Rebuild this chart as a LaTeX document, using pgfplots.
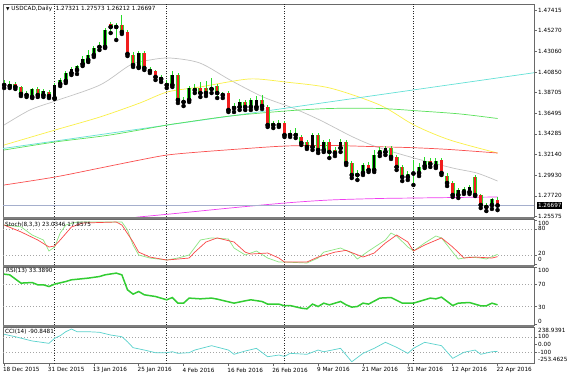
\documentclass[border=0pt]{standalone}
\usepackage{fontspec}
\setmainfont{DejaVu Sans}
\usepackage{pgfplots}
\usepackage{pgfplotstable}
\pgfplotsset{compat=1.18}

\definecolor{frame}{RGB}{105,105,105}
\definecolor{sep}{RGB}{125,125,125}
\definecolor{wick}{RGB}{40,220,40}
\definecolor{bear}{RGB}{240,30,30}
\definecolor{maGray}{RGB}{195,195,195}
\definecolor{maYellow}{RGB}{250,240,70}
\definecolor{maGreen}{RGB}{90,225,90}
\definecolor{maCyan}{RGB}{100,225,215}
\definecolor{maRed}{RGB}{250,80,80}
\definecolor{maMag}{RGB}{240,60,240}
\definecolor{bid}{RGB}{165,175,205}
\definecolor{stG}{RGB}{140,230,130}
\definecolor{stR}{RGB}{250,70,70}
\definecolor{rsiG}{RGB}{50,205,50}
\definecolor{cciC}{RGB}{90,210,205}
\definecolor{gridc}{RGB}{165,165,165}

\newcommand\mt{\fontsize{5.7bp}{6.5bp}\selectfont}

\pgfplotstableread{
i O H L C
0 1.3947 1.4000 1.3915 1.3963
1 1.3936 1.3989 1.3915 1.3958
5 1.3820 1.3915 1.3809 1.3905
7 1.3841 1.3905 1.3820 1.3883
9 1.3809 1.3968 1.3799 1.3947
10 1.3958 1.4021 1.3936 1.4000
11 1.3989 1.4095 1.3968 1.4074
12 1.4074 1.4138 1.4053 1.4117
13 1.4106 1.4159 1.4064 1.4148
14 1.4170 1.4254 1.4148 1.4223
15 1.4212 1.4318 1.4191 1.4265
16 1.4265 1.4360 1.4244 1.4339
17 1.4350 1.4403 1.4318 1.4371
18 1.4350 1.4551 1.4339 1.4530
20 1.4562 1.4604 1.4424 1.4583
24 1.4138 1.4307 1.4127 1.4286
30 1.3947 1.4095 1.3926 1.4053
33 1.3788 1.3936 1.3767 1.3915
34 1.3894 1.3958 1.3862 1.3915
37 1.3905 1.4021 1.3862 1.3926
41 1.3703 1.3756 1.3661 1.3724
42 1.3714 1.3799 1.3682 1.3767
44 1.3714 1.3809 1.3682 1.3788
45 1.3714 1.3830 1.3693 1.3788
49 1.3523 1.3576 1.3502 1.3544
51 1.3417 1.3470 1.3396 1.3438
52 1.3417 1.3491 1.3385 1.3438
55 1.3290 1.3438 1.3258 1.3417
57 1.3258 1.3364 1.3237 1.3343
60 1.3279 1.3375 1.3237 1.3343
63 1.2993 1.3046 1.2940 1.3014
64 1.3014 1.3120 1.2993 1.3099
66 1.3046 1.3258 1.3025 1.3205
67 1.3226 1.3290 1.3194 1.3258
68 1.3237 1.3300 1.3205 1.3279
72 1.2972 1.3035 1.2940 1.3004
73 1.3009 1.3152 1.2887 1.3025
74 1.3014 1.3120 1.2982 1.3078
75 1.3088 1.3184 1.3067 1.3141
77 1.3088 1.3173 1.3067 1.3141
81 1.2781 1.2855 1.2749 1.2834
82 1.2813 1.2866 1.2792 1.2845
83 1.2813 1.2887 1.2792 1.2866
87 1.2675 1.2749 1.2633 1.2739
}\bull

\pgfplotstableread{
i O H L C
2 1.3958 1.3979 1.3905 1.3926
3 1.3926 1.3936 1.3830 1.3852
4 1.3862 1.3883 1.3820 1.3841
6 1.3905 1.3926 1.3820 1.3841
8 1.3873 1.3894 1.3809 1.3830
19 1.4594 1.4615 1.4498 1.4562
21 1.4583 1.4689 1.4488 1.4509
22 1.4509 1.4530 1.4254 1.4276
23 1.4265 1.4297 1.4138 1.4159
25 1.4286 1.4307 1.4106 1.4127
26 1.4117 1.4138 1.4074 1.4095
27 1.4095 1.4106 1.4000 1.4032
28 1.4032 1.4053 1.3979 1.4011
29 1.3968 1.4000 1.3915 1.3947
31 1.4053 1.4074 1.3756 1.3788
32 1.3788 1.3820 1.3724 1.3767
35 1.3915 1.3979 1.3820 1.3862
36 1.3915 1.3989 1.3830 1.3862
38 1.3936 1.3958 1.3809 1.3862
39 1.3852 1.3873 1.3809 1.3841
40 1.3862 1.3883 1.3661 1.3682
43 1.3767 1.3788 1.3682 1.3714
46 1.3788 1.3841 1.3693 1.3724
47 1.3714 1.3735 1.3502 1.3523
48 1.3544 1.3565 1.3491 1.3523
50 1.3544 1.3565 1.3396 1.3417
53 1.3396 1.3417 1.3311 1.3332
54 1.3343 1.3364 1.3269 1.3290
56 1.3417 1.3438 1.3226 1.3258
58 1.3343 1.3375 1.3173 1.3237
59 1.3258 1.3290 1.3194 1.3226
61 1.3343 1.3364 1.3099 1.3120
62 1.3120 1.3141 1.2961 1.2993
65 1.3099 1.3131 1.3025 1.3046
69 1.3279 1.3300 1.3163 1.3184
70 1.3184 1.3205 1.3046 1.3078
71 1.3078 1.3099 1.2929 1.2972
76 1.3141 1.3173 1.3078 1.3110
78 1.3152 1.3173 1.2993 1.3014
79 1.2982 1.3014 1.2876 1.2908
80 1.2908 1.2929 1.2760 1.2781
84 1.2972 1.2993 1.2770 1.2781
85 1.2781 1.2792 1.2643 1.2675
86 1.2675 1.2696 1.2611 1.2654
88 1.27321 1.27573 1.26212 1.26697
}\bear

\pgfplotsset{
  mt/.style={
    scale only axis, width=531bp, xmin=-0.2, xmax=94.5,
    anchor=south west,
    axis line style={draw=frame, line width=0.8bp},
    xtick=\empty,
    ytick pos=right, yticklabels={},
    tick align=outside, major tick length=2.5bp,
    every tick/.append style={draw=frame, line width=0.5bp},
    extra x ticks={9,29,50,73}, extra x tick labels={},
    extra x tick style={grid=major, major tick length=0pt,
      major grid style={draw=black!85, line width=0.5bp, dash pattern=on 1bp off 1.5bp}},
  },
  lvl/.style={grid=major, major grid style={draw=gridc, line width=0.5bp, dash pattern=on 1bp off 2bp}},
  wicks/.style={only marks, mark=none, forget plot, error bars/.cd, y dir=plus, y explicit, error mark=none,
    error bar style={draw=wick, line width=0.8bp, solid}},
  bodyo/.style={only marks, mark=none, forget plot, error bars/.cd, y dir=plus, y explicit, error mark=none,
    error bar style={draw=wick, line width=3.8bp, solid}},
  bodyf/.style={only marks, mark=none, forget plot, error bars/.cd, y dir=plus, y explicit, error mark=none,
    error bar style={draw=#1, line width=2.5bp, solid}},
}

\begin{document}
\begin{tikzpicture}
\useasboundingbox (0,0) rectangle (573bp,377bp);
\fill[white] (0,0) rectangle (573bp,377bp);

% ---------------- main price window
\begin{axis}[mt, at={(3bp,160bp)}, height=213bp, ymin=1.25478, ymax=1.48056,
  ytick={1.25575,1.27720,1.29930,1.32140,1.34285,1.36495,1.38705,1.40850,1.43060,1.45270,1.47415}]
\addplot[maGray, line width=0.7bp, smooth] coordinates {(0,1.3523) (4.6,1.3682) (9.1,1.3777) (17.1,1.3947) (22.5,1.4159) (26,1.4212) (29.6,1.4233) (34.9,1.4180) (40.3,1.4000) (46.2,1.3820) (51.5,1.3703) (56.3,1.3576) (62.2,1.3396) (66.5,1.3290) (73.1,1.3173) (80,1.3067) (84.3,1.3014) (88,1.2929)};
\addplot[maYellow, line width=0.7bp, smooth] coordinates {(0,1.3311) (9.1,1.3470) (17.1,1.3608) (24.2,1.3756) (29.1,1.3873) (34.9,1.3926) (42.1,1.4000) (45.1,1.4011) (50.1,1.3979) (58.1,1.3915) (67,1.3735) (73.1,1.3523) (79.5,1.3364) (88,1.3226)};
\addplot[maCyan, line width=0.7bp] coordinates {(-0.2,1.3274) (94.5,1.4077)};
\addplot[maGreen, line width=0.7bp, smooth] coordinates {(0,1.3258) (9.1,1.3343) (18.9,1.3417) (29.1,1.3523) (31.4,1.3544) (40.3,1.3618) (50.1,1.3671) (58.1,1.3698) (67,1.3698) (74.2,1.3671) (81.3,1.3640) (88,1.3592)};
\addplot[maRed, line width=0.7bp, smooth] coordinates {(0,1.2887) (9.1,1.2972) (17.1,1.3067) (24.2,1.3152) (29.1,1.3205) (34.9,1.3237) (42.1,1.3269) (50.1,1.3300) (58.1,1.3306) (65.2,1.3295) (73.1,1.3282) (79.5,1.3263) (88,1.3226)};
\addplot[maMag, line width=0.7bp, smooth] coordinates {(23.5,1.2545) (31.4,1.2590) (40.3,1.2643) (50.1,1.2696) (58.1,1.2728) (67,1.2744) (73.1,1.2749) (88,1.2760)};
\addplot[bid, line width=0.7bp] coordinates {(-0.2,1.26697) (94.5,1.26697)};
% candles
\addplot[wicks] table[x=i, y=L, y error expr=\thisrow{H}-\thisrow{L}] {\bull};
\addplot[wicks] table[x=i, y=L, y error expr=\thisrow{H}-\thisrow{L}] {\bear};
\addplot[bodyo] table[x=i, y=O, y error expr=\thisrow{C}-\thisrow{O}] {\bull};
\addplot[bodyo] table[x=i, y=C, y error expr=\thisrow{O}-\thisrow{C}] {\bear};
\addplot[bodyf=black] table[x=i, y=O, y error expr=\thisrow{C}-\thisrow{O}] {\bull};
\addplot[bodyf=bear] table[x=i, y=C, y error expr=\thisrow{O}-\thisrow{C}] {\bear};
\end{axis}

% ---------------- Stochastic
\begin{axis}[mt, at={(3bp,111.5bp)}, height=46.5bp, ymin=-2, ymax=102.5,
  ytick={0,100}, extra y ticks={20,80}, extra y tick labels={}, extra y tick style={lvl}]
\addplot[stG, line width=0.7bp] coordinates {(0,89) (3,85) (5,66.5) (7,55.3) (8,30.6) (9,39.6) (10,71) (11,89) (13,95.7) (21,95.7) (22,77.8) (23,44) (24,21.6) (26,14.8) (29,10.3) (31,14.8) (33,21.6) (35,55.3) (37,60) (40,57.5) (41,37.3) (43,21.6) (45,30.6) (47,14.8) (49,5.8) (50,5.8) (54,3.6) (56,14.8) (57,28) (60,37.3) (62,26) (63,12.6) (65,30.6) (68,55.3) (69,71) (70,64.3) (72,39.6) (73,30.6) (75,48.5) (77,64.3) (78,60) (80,28) (81,12.6) (83,17) (85,14.8) (86,12.6) (88,23.03)};
\addplot[stR, line width=0.7bp] coordinates {(0,89) (3,73.5) (6,55.3) (8,39.6) (9,41.8) (10,55.3) (12,84.5) (14,93.5) (20,95.7) (21,89) (23,50.8) (24,28) (26,17) (29,10.3) (33,14.8) (34,28) (36,50.8) (38,60) (41,50.8) (43,28) (44,23.8) (47,26) (49,14.8) (50,5.8) (54,5.8) (56,17) (59,28) (61,32) (64,17) (66,26) (68,48.5) (70,66.5) (72,50.8) (73,30.6) (75,44) (78,60) (80,39.6) (82,14.8) (84,17) (87,14.8) (88,17.86)};
\end{axis}

% ---------------- RSI
\begin{axis}[mt, at={(3bp,52bp)}, height=58bp, ymin=-2.2, ymax=100,
  ytick={0,100}, extra y ticks={30,70}, extra y tick labels={}, extra y tick style={lvl}]
\addplot[rsiG, line width=1.5bp] coordinates {(0,87.4) (1,86.2) (3,71.6) (5,72.6) (6,68.6) (7,68.6) (8,65.6) (9,69.8) (11,74.4) (12,77.4) (15,80.4) (17,83.2) (18,86.2) (20,89.2) (21,86.2) (22,59.8) (23,52.2) (24,56.8) (25,51) (27,48) (29,42.2) (30,46.2) (31,36.3) (32,36.3) (33,45.2) (35,43.9) (37,45.2) (38,43.4) (41,36.3) (43,40.4) (44,42.2) (46,39.2) (47,34.6) (49,34.6) (50,31.6) (51,32.1) (53,27.5) (54,26.3) (55,34.6) (56,30.4) (57,36.3) (58,33.3) (60,39.2) (61,33.3) (62,29.3) (63,30.4) (64,36.3) (65,34.6) (67,45.2) (69,46.2) (71,36.3) (73,36.3) (75,42.2) (76,45.2) (77,43.9) (78,46.9) (80,32.1) (81,36.3) (83,37.4) (85,31.6) (86,31.6) (87,36.3) (88,33.39)};
\end{axis}

% ---------------- CCI
\begin{axis}[mt, at={(3bp,13.5bp)}, height=36.5bp, ymin=-256, ymax=240,
  ytick={0}, extra y ticks={-100,100}, extra y tick labels={}, extra y tick style={lvl},
  xtick={0,8,...,88}, xtick pos=left,
  xticklabels={18 Dec 2015,31 Dec 2015,13 Jan 2016,25 Jan 2016,4 Feb 2016,16 Feb 2016,26 Feb 2016,9 Mar 2016,21 Mar 2016,31 Mar 2016,12 Apr 2016,22 Apr 2016},
  xticklabel style={font=\mt, anchor=north west, inner sep=0pt, xshift=-1.2bp, yshift=-1.5bp}]
\addplot[cciC, line width=0.7bp] coordinates {(0,141) (2,108) (5,50) (6,40) (8,18) (9,86) (10,122) (11,176) (12,213) (13,176) (15,176) (17,168) (19,131) (21,108) (22,40) (23,-41) (25,-73) (27,-109) (29,-109) (30,-96) (31,-118) (33,-109) (34,-73) (37,-14) (40,-73) (41,-131) (43,-86) (45,-50) (47,-164) (49,-141) (50,-160) (51,-118) (54,-131) (56,-73) (57,-96) (60,-50) (62,-232) (64,-118) (66,-50) (68,32) (70,-36) (72,-118) (73,-50) (75,32) (78,-14) (80,-186) (82,-104) (84,-73) (85,-131) (87,-96) (88,-90.85)};
\end{axis}

% separators
\fill[sep] (3bp,158bp) rectangle (534bp,160bp);
\fill[sep] (3bp,110bp) rectangle (534bp,111.5bp);
\fill[sep] (3bp,50bp) rectangle (534bp,52bp);

% window titles
\begin{scope}[every node/.style={anchor=west, inner sep=0pt, font=\mt}]
\node at (6bp,368bp) {{\fontsize{4.5bp}{5bp}\selectfont ▼}\ USDCAD,Daily\ \ 1.27321 1.27573 1.26212 1.26697};
\node at (5bp,152.7bp) {Stoch(8,3,3) 23.0346 17.8575};
\node at (6bp,106bp) {RSI(13) 33.3890};
\node at (5bp,45.3bp) {CCI(14) -90.8481};
% right scale labels, main
\node at (538bp,366.95bp) {1.47415};
\node at (538bp,346.72bp) {1.45270};
\node at (538bp,325.87bp) {1.43060};
\node at (538bp,305.02bp) {1.40850};
\node at (538bp,284.78bp) {1.38705};
\node at (538bp,263.93bp) {1.36495};
\node at (538bp,243.08bp) {1.34285};
\node at (538bp,222.85bp) {1.32140};
\node at (538bp,202bp) {1.29930};
\node at (538bp,181.15bp) {1.27720};
\node at (538bp,160.9bp) {1.25575};
\node[fill=black, text=white, inner xsep=0.8bp, inner ysep=0.9bp] at (537bp,171.5bp) {1.26697};
% stoch
\node at (538bp,153.7bp) {100};
\node at (538bp,148.7bp) {80};
\node at (538bp,123.2bp) {20};
\node at (538bp,117.2bp) {0};
% rsi
\node at (538bp,106.3bp) {100};
\node at (538bp,93bp) {70};
\node at (538bp,70bp) {30};
\node at (538bp,56bp) {0};
% cci
\node at (538bp,47bp) {238.9391};
\node at (538bp,40.7bp) {100};
\node at (538bp,33bp) {0.00};
\node at (538bp,25bp) {-100};
\node at (538bp,17.7bp) {-253.4625};
\end{scope}
\end{tikzpicture}
\end{document}
